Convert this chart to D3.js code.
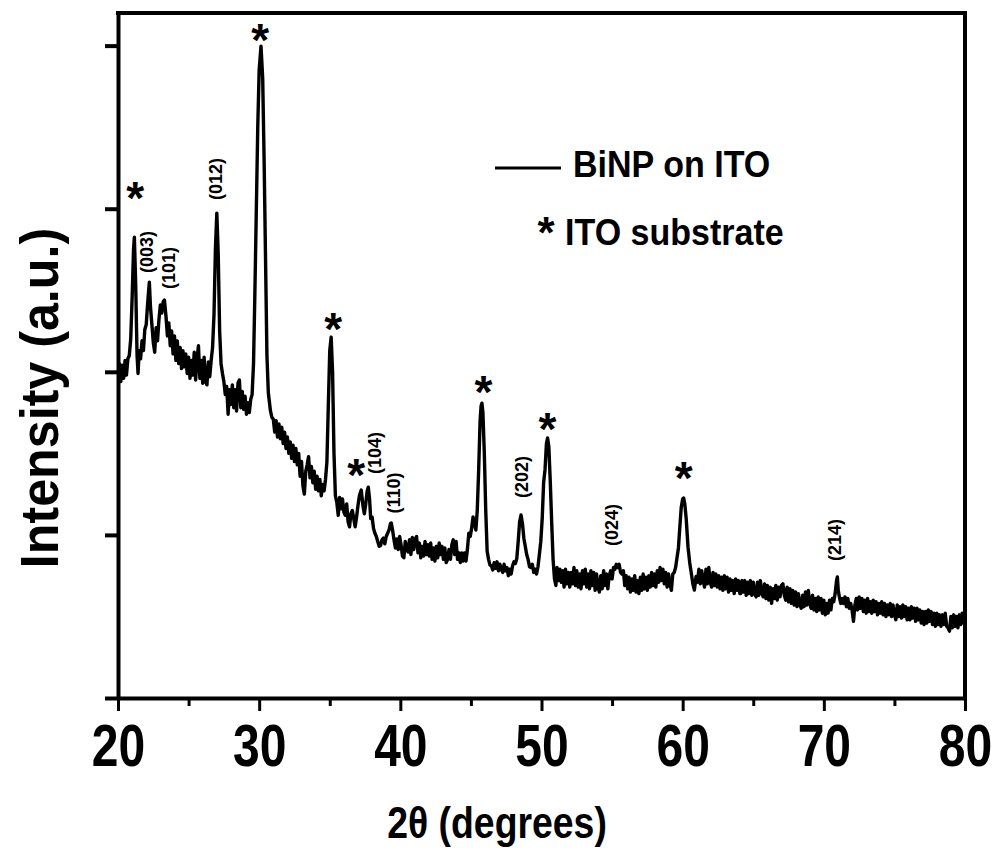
<!DOCTYPE html>
<html>
<head>
<meta charset="utf-8">
<script src="https://cdn.jsdelivr.net/npm/d3@7"></script>
<style>
  body { margin: 0; background: #fff; }
  svg { display: block; }
  text { font-family: "Liberation Sans", Arial, sans-serif; font-weight: bold; fill: #000; }
</style>
</head>
<body>
<svg id="chart" width="999" height="850"></svg>
<script>
// XRD scan of Bi nanoparticles on ITO: 2θ (degrees) and intensity (counts)
const twoTheta = [
  20.0,20.1,20.2,20.3,20.4,20.5,20.6,20.7,20.8,20.9,21.0,21.1,21.16,21.25,21.35,21.42,21.5,21.6,21.7,21.8,21.9,
  22.0,22.1,22.22,22.3,22.4,22.5,22.6,22.7,22.8,22.9,23.0,23.1,23.2,23.29,23.4,23.5,23.6,23.7,23.8,23.9,
  24.0,24.1,24.2,24.3,24.4,24.5,24.6,24.7,24.8,24.9,25.0,25.1,25.2,25.3,25.4,25.5,25.6,25.7,25.8,25.9,
  26.0,26.1,26.2,26.3,26.4,26.5,26.6,26.7,26.8,26.9,27.0,27.1,27.2,27.3,27.4,
  27.5,27.6,27.7,27.8,27.9,28.0,28.1,28.2,28.3,28.4,28.5,28.6,28.7,28.8,28.9,29.0,29.1,29.2,29.3,29.4,29.5,
  29.6,29.7,29.8,29.9,30.0,30.13,30.25,30.35,30.45,30.55,30.65,30.8,30.9,
  31.0,31.1,31.2,31.3,31.4,31.5,31.6,31.7,31.8,31.9,32.0,32.1,32.2,32.3,32.4,32.5,32.6,32.7,32.8,32.9,
  33.0,33.1,33.2,33.3,33.4,33.5,33.6,33.7,33.8,33.9,34.0,34.1,34.2,34.3,34.4,34.5,34.6,34.7,34.8,34.9,
  35.0,35.1,35.2,35.3,35.4,35.5,35.6,35.7,35.8,35.9,36.0,36.1,36.2,36.3,36.4,36.5,36.6,36.7,36.8,36.9,
  37.0,37.1,37.23,37.35,37.45,37.55,37.65,37.73,37.82,37.9,38.0,38.1,38.2,38.3,38.4,38.5,38.6,38.7,38.8,38.9,
  39.0,39.1,39.2,39.3,39.36,39.45,39.55,39.65,39.75,39.85,39.95,40.05,40.15,40.25,40.35,40.45,40.55,40.65,40.75,40.85,40.95,
  41.05,41.15,41.25,41.35,41.45,41.55,41.65,41.75,41.85,41.95,42.05,42.15,42.25,42.35,42.45,42.55,42.65,42.75,42.85,42.95,
  43.05,43.15,43.25,43.35,43.45,43.55,43.65,43.75,43.85,43.95,44.05,44.15,44.25,44.35,44.45,44.55,44.65,44.75,44.85,44.95,
  45.05,45.15,45.25,45.35,45.45,45.55,45.65,45.72,45.78,45.85,45.95,46.05,46.15,46.25,46.35,46.45,46.55,46.65,46.75,46.85,46.95,
  47.05,47.15,47.25,47.35,47.45,47.55,47.65,47.75,47.85,47.95,48.05,48.15,48.25,48.35,48.45,48.55,48.65,48.75,48.85,48.95,
  49.05,49.15,49.25,49.35,49.45,49.55,49.65,49.75,49.85,49.95,50.05,50.15,50.25,50.35,50.43,50.52,50.62,50.72,50.82,50.92,
  51.02,51.1,51.2,51.3,51.4,51.5,51.6,51.7,51.8,51.9,52.0,52.1,52.2,52.3,52.4,52.5,52.6,52.7,52.8,52.9,
  53.0,53.1,53.2,53.3,53.4,53.5,53.6,53.7,53.8,53.9,54.0,54.1,54.2,54.3,54.4,54.5,54.6,54.7,54.8,54.9,
  55.0,55.1,55.2,55.3,55.4,55.5,55.6,55.7,55.8,55.9,56.0,56.1,56.2,56.3,56.4,56.5,56.6,56.7,56.8,56.9,
  57.0,57.1,57.2,57.3,57.4,57.5,57.6,57.7,57.8,57.9,58.0,58.1,58.2,58.3,58.4,58.5,58.6,58.7,58.8,58.9,
  59.0,59.1,59.2,59.3,59.4,59.5,59.6,59.7,59.8,59.9,60.0,60.07,60.15,60.25,60.38,60.5,60.61,60.72,60.83,60.95,
  61.05,61.15,61.25,61.35,61.45,61.55,61.65,61.75,61.85,61.95,62.05,62.15,62.25,62.35,62.45,62.55,62.65,62.75,62.85,62.95,
  63.05,63.15,63.25,63.35,63.45,63.55,63.65,63.75,63.85,63.95,64.05,
  64.1,64.2,64.3,64.4,64.5,64.6,64.7,64.8,64.9,65.0,65.1,65.2,65.3,65.4,65.5,65.6,65.7,65.8,65.9,
  66.0,66.1,66.2,66.3,66.4,66.5,66.6,66.7,66.8,66.9,67.0,67.1,67.2,67.3,67.4,67.5,67.6,67.7,67.8,67.9,
  68.0,68.1,68.2,68.3,68.4,68.5,68.6,68.7,68.8,68.9,69.0,69.1,69.2,69.3,69.4,69.5,69.6,69.7,69.8,69.9,
  70.0,70.1,70.2,70.3,70.4,70.5,70.6,70.7,70.8,70.9,70.96,71.02,71.1,71.2,71.3,71.4,71.5,71.6,71.7,71.8,71.9,
  72.0,72.1,72.2,72.3,72.4,72.5,72.6,72.7,72.8,72.9,73.0,73.1,73.2,73.3,73.4,73.5,73.6,73.7,73.8,73.9,
  74.0,74.1,74.2,74.3,74.4,74.5,74.6,74.7,74.8,74.9,75.0,75.1,75.2,75.3,75.4,75.5,75.6,75.7,75.8,75.9,
  76.0,76.1,76.2,76.3,76.4,76.5,76.6,76.7,76.8,76.9,77.0,77.1,77.2,77.3,77.4,77.5,77.6,77.7,77.8,77.9,
  78.0,78.1,78.2,78.3,78.4,78.5,78.6,78.7,78.8,78.9,79.0,79.1,79.2,79.3,79.4,79.5,79.6,79.7,79.8,79.9,80.0
];
const intensity = [
  1990,2050,1940,2040,1960,2070,1980,2080,2100,2200,2450,2750,2826,2550,2100,1990,2130,2080,2190,2130,2260,
  2290,2420,2550,2400,2290,2180,2120,2270,2190,2320,2410,2360,2430,2440,2340,2220,2300,2160,2250,2110,
  2220,2070,2190,2050,2150,2020,2130,2030,2110,1990,2090,1960,2070,1980,2120,1950,2080,2160,1960,2070,
  1930,2090,1940,1920,2060,1970,2070,2150,2350,2750,2973,2720,2250,2050,1990,
  1940,1860,1910,1740,1890,1800,1920,1780,1890,1760,1930,1950,1780,1880,1770,1850,1740,1810,1750,1830,1860,
  2050,2500,3000,3500,3850,3997,3800,3300,2700,2100,1870,1760,1720,
  1710,1630,1700,1600,1680,1590,1660,1560,1630,1530,1600,1500,1570,1470,1550,1450,1530,1430,1500,1360,
  1450,1300,1250,1390,1430,1480,1350,1420,1320,1390,1280,1360,1270,1340,1240,1310,1270,1340,1450,1800,
  2130,2213,2000,1500,1240,1200,1120,1230,1160,1220,1140,1120,1190,1080,1050,1130,1150,1100,1050,1110,
  1180,1240,1275,1180,1130,1190,1270,1293,1220,1100,1110,1040,1010,990,960,930,935,970,980,945,
  990,1010,1030,1070,1073,1030,970,920,975,910,990,940,870,860,960,915,895,970,880,985,910,
  975,990,890,950,860,930,870,960,880,940,870,950,850,920,840,930,860,950,880,930,
  850,920,830,850,910,850,940,970,880,960,850,890,830,890,840,890,840,910,1010,990,
  1040,1110,1070,1030,1150,1400,1700,1790,1808,1750,1500,1150,900,850,815,810,785,830,795,835,780,
  820,790,770,820,780,800,750,790,760,810,835,825,855,960,1080,1122,1070,980,930,880,
  850,805,800,820,770,790,760,805,880,960,1100,1320,1400,1560,1594,1540,1330,1080,850,730,
  690,800,720,790,710,780,680,790,700,770,680,770,700,800,690,780,680,760,670,780,
  700,790,680,760,670,780,690,770,660,760,680,650,750,670,780,690,760,670,750,780,
  730,800,790,820,800,820,770,760,780,690,750,670,740,650,730,660,750,650,720,640,
  740,660,760,670,740,660,750,680,770,690,760,680,780,710,800,720,790,700,770,680,
  760,700,660,760,770,800,860,920,1050,1170,1220,1226,1190,1100,925,830,766,700,662,745,
  710,790,700,780,720,680,790,700,800,710,680,770,690,760,680,750,670,740,660,750,
  670,740,650,730,660,720,640,730,660,720,640,
  640,720,650,720,630,710,640,720,630,710,640,620,710,630,720,650,620,700,610,
  690,600,680,580,670,610,690,600,680,620,690,700,630,600,680,590,670,580,660,570,
  650,560,640,570,550,630,560,650,570,660,580,550,630,540,610,530,620,540,610,520,
  600,510,580,520,600,540,610,590,640,720,742,660,620,580,610,580,620,560,610,550,580,
  540,470,570,610,540,620,550,610,530,600,520,610,530,590,520,600,530,590,510,580,
  520,590,510,580,500,570,510,580,500,570,510,480,570,500,560,490,570,500,560,480,
  550,480,560,490,550,470,550,480,540,460,530,450,530,460,540,470,530,450,520,440,
  520,450,510,440,510,450,520,440,430,410,500,430,510,440,500,430,510,450,520,460,490
];

// Axis ticks
const xTicks = [20, 30, 40, 50, 60, 70, 80];
const xMinorTicks = [25, 35, 45, 55, 65, 75];
const yTicks = [0, 1000, 2000, 3000, 4000];

// ITO substrate reflections (asterisk markers): position and height of the marker
const starTheta = [21.21, 30.07, 35.25, 36.88, 45.89, 50.43, 60.07];
const starLevel = [3130, 4102, 2330, 1430, 1940, 1717, 1415];

// Bi (hkl) reflections: label text, position and height of the label centre
const hklText  = ["(003)", "(101)", "(012)", "(104)", "(110)", "(202)", "(024)", "(214)"];
const hklTheta = [22.06, 23.62, 26.95, 38.16, 39.50, 48.58, 54.96, 70.78];
const hklLevel = [2735, 2636, 3182, 1502, 1257, 1355, 1061, 969];

const svg = d3.select("#chart");
const x = d3.scaleLinear().domain([20, 80]).range([118, 965]);
const y = d3.scaleLinear().domain([0, 4200]).range([698, 13]);

// frame: top and right edges
svg.append("line").attr("x1", x(20)).attr("x2", x(80)).attr("y1", y(4200)).attr("y2", y(4200))
  .attr("stroke", "#000").attr("stroke-width", 4).attr("stroke-linecap", "square");
svg.append("line").attr("x1", x(80)).attr("x2", x(80)).attr("y1", y(4200)).attr("y2", y(0))
  .attr("stroke", "#000").attr("stroke-width", 4).attr("stroke-linecap", "square");

// minor x ticks
const xMinor = svg.append("g").attr("transform", `translate(0,${y(0)})`)
  .call(d3.axisBottom(x).tickValues(xMinorTicks).tickSize(8).tickSizeOuter(0).tickFormat(""));
xMinor.select(".domain").remove();
xMinor.selectAll(".tick line").attr("stroke-width", 3);

// major x axis
const xAxis = svg.append("g").attr("transform", `translate(0,${y(0)})`)
  .call(d3.axisBottom(x).tickValues(xTicks).tickSize(13).tickSizeOuter(0).tickFormat(d3.format("d")));
xAxis.select(".domain").attr("stroke-width", 4);
xAxis.selectAll(".tick line").attr("stroke-width", 3);
xAxis.selectAll(".tick text")
  .attr("y", 0).attr("dy", 0)
  .attr("transform", "translate(0,68) scale(0.8,1)")
  .style("font-family", '"Liberation Sans", Arial, sans-serif')
  .style("font-weight", "bold").style("font-size", "60px").attr("fill", "#000");

// y axis (unlabelled ticks)
const yAxis = svg.append("g").attr("transform", `translate(${x(20)},0)`)
  .call(d3.axisLeft(y).tickValues(yTicks).tickSize(13).tickSizeOuter(0).tickFormat(""));
yAxis.select(".domain").attr("stroke-width", 4);
yAxis.selectAll(".tick line").attr("stroke-width", 4);

// diffraction pattern
const pts = twoTheta.map((t, i) => [t, intensity[i]]);
svg.append("path")
  .datum(pts)
  .attr("fill", "none").attr("stroke", "#000").attr("stroke-width", 3.4)
  .attr("stroke-linejoin", "round")
  .attr("d", d3.line().x(d => x(d[0])).y(d => y(d[1])));

// substrate asterisks
svg.selectAll("text.star").data(starTheta).join("text")
  .attr("class", "star")
  .attr("x", d => x(d)).attr("y", (d, i) => y(starLevel[i]))
  .attr("dy", "0.58em").attr("text-anchor", "middle")
  .style("font-size", "46px").text("*");

// (hkl) labels, rotated
svg.selectAll("text.hkl").data(hklText).join("text")
  .attr("class", "hkl")
  .attr("transform", (d, i) => `translate(${x(hklTheta[i])},${y(hklLevel[i])}) rotate(-90)`)
  .attr("text-anchor", "middle").attr("dy", "0.35em")
  .style("font-size", "18px").text(d => d);

// legend
svg.append("line").attr("x1", 495).attr("x2", 561).attr("y1", 168).attr("y2", 168)
  .attr("stroke", "#000").attr("stroke-width", 3);
svg.append("text").attr("transform", "translate(573,177) scale(0.92,1)")
  .style("font-size", "37px").text("BiNP on ITO");
svg.append("text").attr("x", 546).attr("y", 222).attr("dy", "0.58em").attr("text-anchor", "middle")
  .style("font-size", "44px").text("*");
svg.append("text").attr("transform", "translate(565,245) scale(0.92,1)")
  .style("font-size", "37px").text("ITO substrate");

// axis titles
svg.append("text").attr("transform", "translate(58,398) rotate(-90) scale(0.93,1)")
  .attr("text-anchor", "middle").style("font-size", "54px").text("Intensity (a.u.)");
svg.append("text").attr("transform", "translate(497,838) scale(0.85,1)")
  .attr("text-anchor", "middle").style("font-size", "44px").text("2θ (degrees)");
</script>
</body>
</html>
